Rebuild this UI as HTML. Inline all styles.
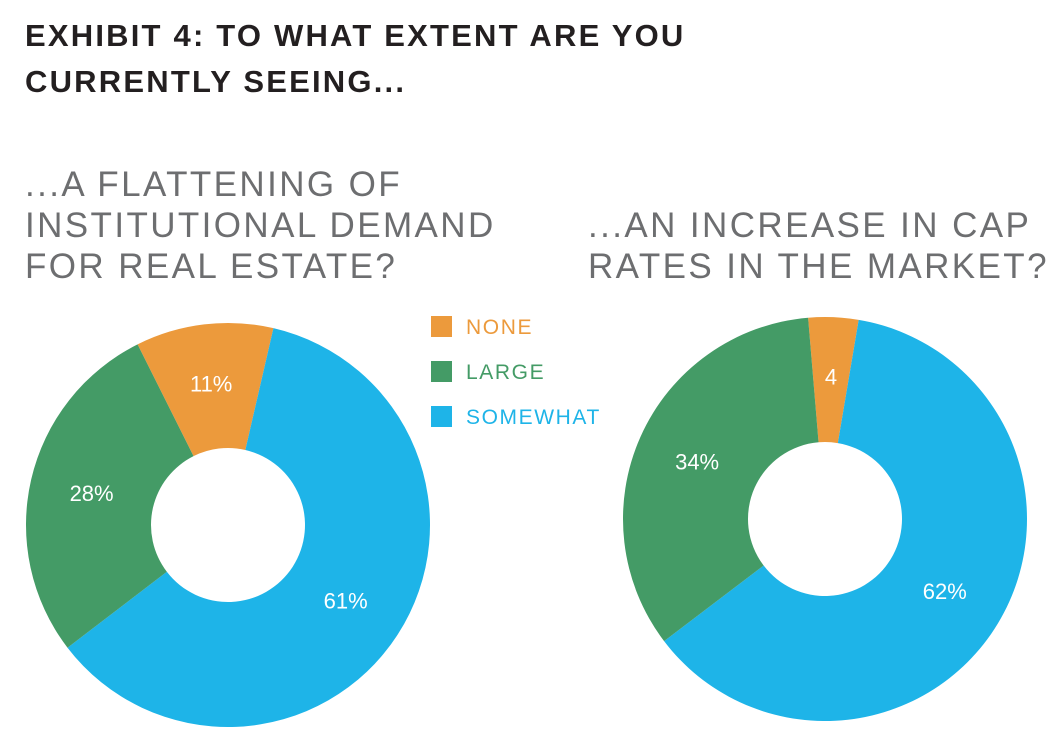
<!DOCTYPE html>
<html><head><meta charset="utf-8">
<style>
html,body{margin:0;padding:0;background:#fff;width:1054px;height:754px;overflow:hidden}
svg{display:block}
.t{font-family:"Liberation Sans",sans-serif;font-weight:bold;font-size:31px;fill:#231f20;letter-spacing:2.2px}
.s{font-family:"Liberation Sans",sans-serif;font-size:35px;fill:#6d6e70;letter-spacing:2.4px}
.lg{font-family:"Liberation Sans",sans-serif;font-size:21px;letter-spacing:1.6px}
.lb{font-family:"Liberation Sans",sans-serif;font-size:22px;fill:#fff;text-anchor:middle;dominant-baseline:central}
</style></head>
<body>
<svg id="chart" width="1054" height="754" xmlns="http://www.w3.org/2000/svg">
<text class="t" x="25" y="46">EXHIBIT 4: TO WHAT EXTENT ARE YOU</text>
<text class="t" x="25" y="92">CURRENTLY SEEING...</text>
<text class="s" x="25" y="196">...A FLATTENING OF</text>
<text class="s" x="25" y="237">INSTITUTIONAL DEMAND</text>
<text class="s" x="25" y="278">FOR REAL ESTATE?</text>
<text class="s" x="588" y="237">...AN INCREASE IN CAP</text>
<text class="s" x="588" y="278">RATES IN THE MARKET?</text>
<g>
<rect x="431" y="316" width="21" height="21" fill="#ec9a3c"/>
<text class="lg" x="466" y="334" fill="#ec9a3c">NONE</text>
<rect x="431" y="361" width="21" height="21" fill="#449b66"/>
<text class="lg" x="466" y="379" fill="#449b66">LARGE</text>
<rect x="431" y="406" width="21" height="21" fill="#1eb4e8"/>
<text class="lg" x="466" y="424" fill="#1eb4e8">SOMEWHAT</text>
</g>
</svg>
<script>
const categories = ["NONE","SOMEWHAT","LARGE"];
const leftValues = [11, 61, 28];
const rightValues = [4, 62, 34];
const leftLabels = ["11%","61%","28%"];
const rightLabels = ["4","62%","34%"];
const colors = {"NONE":"#ec9a3c","SOMEWHAT":"#1eb4e8","LARGE":"#449b66"};
const NS="http://www.w3.org/2000/svg";
const svg=document.getElementById('chart');
function pt(cx,cy,r,deg){const a=(deg-90)*Math.PI/180;return [cx+r*Math.cos(a),cy+r*Math.sin(a)];}
function donut(name,cx,cy,R,r,vals,labels,labelR){
  const total=vals.reduce((a,b)=>a+b,0);
  // first slice (NONE) ends where SOMEWHAT begins, offset by NONE's angle
  let start=-(vals[0]/total*360)/2 + (name==='left'?-6.8:2.4);
  const g=document.createElementNS(NS,'g');
  
  
  svg.appendChild(g);
  vals.forEach((v,i)=>{
    const sweep=v/total*360, end=start+sweep, large=sweep>180?1:0;
    const [x1,y1]=pt(cx,cy,R,start),[x2,y2]=pt(cx,cy,R,end),[x3,y3]=pt(cx,cy,r,end),[x4,y4]=pt(cx,cy,r,start);
    const p=document.createElementNS(NS,'path');
    p.setAttribute('d',`M${x1},${y1}A${R},${R} 0 ${large} 1 ${x2},${y2}L${x3},${y3}A${r},${r} 0 ${large} 0 ${x4},${y4}Z`);
    p.setAttribute('fill',colors[categories[i]]);
    
    
    g.appendChild(p);
    const mid=start+sweep/2;
    const [lx,ly]=pt(cx,cy,labelR[i],mid);
    const t=document.createElementNS(NS,'text');
    t.setAttribute('class','lb');t.setAttribute('x',lx);t.setAttribute('y',ly);
    t.textContent=labels[i];
    
    
    g.appendChild(t);
    start=end;
  });
}
donut('left',228,525,202,77,leftValues,leftLabels,[142,140,140]);
donut('right',825,519,202,77,rightValues,rightLabels,[142,140,140]);
</script>
</body></html>
